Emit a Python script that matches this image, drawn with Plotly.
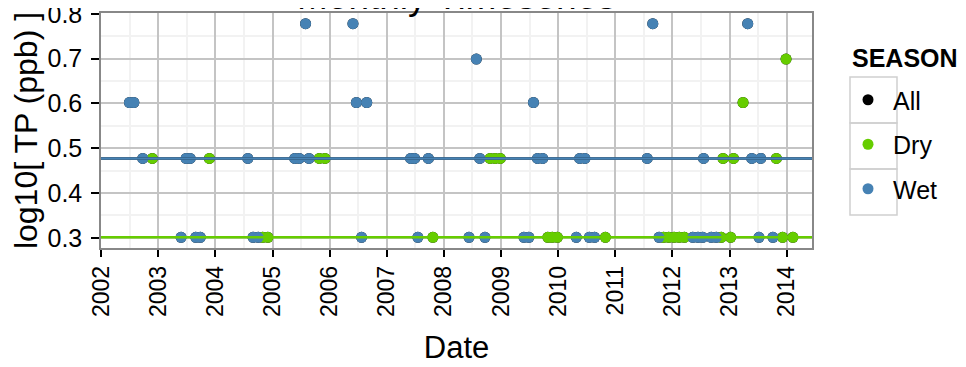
import numpy as np
import plotly.graph_objects as go

# ---- data ----
wet_dates = [
    "2005-07-31", "2006-05-30", "2011-08-29", "2013-04-27",
    "2008-07-27",
    "2002-07-01", "2002-07-29", "2006-06-21", "2006-08-26", "2009-07-27",
    "2002-09-24", "2003-06-28", "2003-07-24", "2004-07-27", "2005-05-23", "2005-06-21",
    "2005-08-22", "2007-06-03", "2007-06-28", "2007-09-24", "2008-08-18", "2009-08-22",
    "2009-09-24", "2010-05-19", "2010-06-21", "2011-07-24", "2012-07-19", "2013-05-23",
    "2013-07-19",
    "2003-05-27", "2003-08-29", "2003-09-27", "2004-08-29", "2004-10-01", "2006-07-24",
    "2007-07-19", "2008-06-10", "2008-09-20", "2009-05-27", "2009-06-28", "2010-04-27",
    "2010-07-19", "2010-08-22", "2011-10-08", "2012-05-11", "2012-06-13", "2012-07-13",
    "2012-09-06", "2012-10-08", "2013-07-08", "2013-10-05",
]
wet_tp = [6, 6, 6, 6,
          5,
          4, 4, 4, 4, 4,
          3, 3, 3, 3, 3, 3, 3, 3, 3, 3, 3, 3, 3, 3, 3, 3, 3, 3, 3,
          2, 2, 2, 2, 2, 2, 2, 2, 2, 2, 2, 2, 2, 2, 2, 2, 2, 2, 2, 2, 2, 2]

dry_dates = [
    "2013-12-28",
    "2013-03-28",
    "2002-11-24", "2003-11-24", "2005-10-27", "2005-12-02", "2008-10-23", "2008-11-24",
    "2008-12-27", "2012-11-20", "2013-01-26", "2013-10-27",
    "2004-10-30", "2004-12-02", "2007-10-23", "2009-10-27", "2009-11-24", "2009-12-27",
    "2010-10-30", "2011-11-06", "2011-12-09", "2012-01-12", "2012-02-14", "2012-03-18",
    "2012-11-09", "2013-01-08", "2013-12-06", "2014-02-10",
]
dry_tp = [5,
          4,
          3, 3, 3, 3, 3, 3, 3, 3, 3, 3,
          2, 2, 2, 2, 2, 2, 2, 2, 2, 2, 2, 2, 2, 2, 2, 2]

year_ticks = [str(y) for y in range(2002, 2015)]
y_ticks = [0.3, 0.4, 0.5, 0.6, 0.7, 0.8]

colors = {"All": "#000000", "Dry": "#66CD00", "Wet": "#4682B4"}

all_dates = wet_dates + dry_dates
all_tp = wet_tp + dry_tp

series = [
    ("All", all_dates, np.log10(all_tp)),
    ("Dry", dry_dates, np.log10(dry_tp)),
    ("Wet", wet_dates, np.log10(wet_tp)),
]

FONT = "Liberation Sans, Arial, sans-serif"

fig = go.Figure()
shapes = []
for name, d, y in series:
    fig.add_trace(go.Scatter(
        x=d, y=y, mode="markers", name=name, legendgroup=name,
        marker=dict(color=colors[name], size=11),
    ))
    shapes.append(dict(type="line", xref="paper", x0=0, x1=1, yref="y",
                       y0=float(np.median(y)), y1=float(np.median(y)),
                       line=dict(color=colors[name], width=2.5), layer="above"))

# page body has an 8px default margin, so the figure is shrunk by that much
OFF = 8
FW, FH = 966 - OFF, 367 - OFF
L, T, H = 101, 13, 235   # plot-area position in window pixels
W = 711
def px(xp):
    return (xp - L) / W
def py(yp):
    return (T + H - yp) / H
for top in (77, 123, 169):
    shapes.append(dict(type="rect", xref="paper", yref="paper",
                       x0=px(850), x1=px(897), y0=py(top), y1=py(top + 46),
                       line=dict(color="#d0d0d0", width=1.5), fillcolor="rgba(0,0,0,0)",
                       layer="below"))

fig.update_layout(
    width=FW, height=FH,
    margin=dict(l=L - OFF, r=FW - (L - OFF) - W, t=T - OFF, b=FH - (T - OFF) - H),
    paper_bgcolor="white", plot_bgcolor="white",
    font=dict(family=FONT, color="black"),
    showlegend=True,
    legend=dict(
        font=dict(size=25),
        x=px(843), xanchor="left", y=py(77), yanchor="top",
        tracegroupgap=9, itemwidth=40,
        bgcolor="rgba(0,0,0,0)",
    ),
    shapes=shapes,
    annotations=[
        dict(text="Monthly Timeseries", xref="paper", yref="paper",
             x=0.5, y=1, yanchor="middle", yshift=17, showarrow=False,
             font=dict(size=37, family=FONT)),
        dict(text="<b>SEASON</b>", xref="paper", yref="paper",
             x=px(850), xanchor="left", y=py(58), yanchor="middle", showarrow=False,
             font=dict(size=25, family=FONT)),
    ],
)

fig.update_xaxes(
    type="date", range=["2001-12-31", "2014-06-12"], automargin=False,
    tickmode="array", tickvals=[f"{y}-01-01" for y in year_ticks], ticktext=year_ticks,
    tickangle=-90, tickfont=dict(size=23), ticklabeloverflow="allow",
    ticks="outside", ticklen=7, tickwidth=2, tickcolor="black",
    showgrid=True, gridcolor="#c4c4c4", gridwidth=2,
    minor=dict(tickmode="array",
               tickvals=[f"{y}-07-02" for y in year_ticks],
               showgrid=True, gridcolor="#f2f2f2", gridwidth=1.5, ticks=""),
    showline=True, linecolor="#888888", linewidth=1.5, mirror=True,
    zeroline=False,
    title=dict(text="Date", font=dict(size=31), standoff=20),
)
fig.update_yaxes(
    range=[0.2771, 0.8019], automargin=False,
    tickmode="array", tickvals=y_ticks, ticktext=[f"{v:.1f}" for v in y_ticks],
    tickfont=dict(size=25), ticklabeloverflow="allow", ticklabelstandoff=4,
    ticks="outside", ticklen=8, tickwidth=2, tickcolor="black",
    showgrid=True, gridcolor="#c4c4c4", gridwidth=2,
    minor=dict(tickmode="array", tickvals=[0.35, 0.45, 0.55, 0.65, 0.75],
               showgrid=True, gridcolor="#f2f2f2", gridwidth=1.5, ticks=""),
    showline=True, linecolor="#888888", linewidth=1.5, mirror=True,
    zeroline=False,
    title=dict(text="log10[ TP (ppb) ]", font=dict(size=32), standoff=4),
)

fig.write_html("out.html")
